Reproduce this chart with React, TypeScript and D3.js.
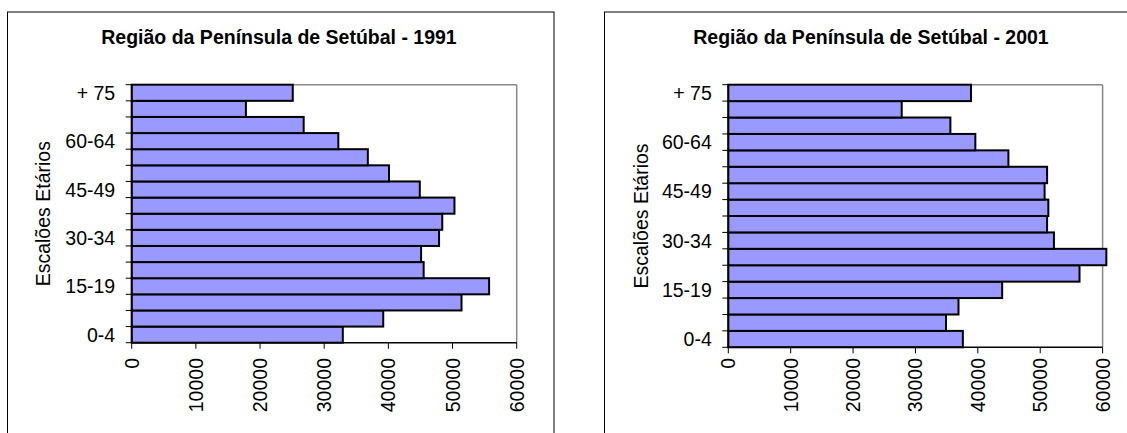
import React from "react";
import * as d3 from "d3";

// ---- data ----
const categories = [
  "0-4", "5-9", "10-14", "15-19", "20-24", "25-29", "30-34", "35-39",
  "40-44", "45-49", "50-54", "55-59", "60-64", "65-69", "70-74", "+ 75",
];
const labeledCategories = ["0-4", "15-19", "30-34", "45-49", "60-64", "+ 75"];
const pop1991 = [
  32900, 39200, 51400, 55700, 45500, 45100, 47900, 48400,
  50300, 44900, 40100, 36800, 32200, 26800, 17800, 25100,
];
const pop2001 = [
  37600, 34900, 36900, 43900, 56300, 60600, 52200, 51100,
  51300, 50700, 51100, 44900, 39600, 35600, 27800, 38900,
];
const xTicks = [0, 10000, 20000, 30000, 40000, 50000, 60000];
const titles = ["Região da Península de Setúbal - 1991", "Região da Península de Setúbal - 2001"];
const axisTitle = "Escalões Etários";

const FONT = "'Liberation Sans', Arial, Helvetica, sans-serif";

type Layout = {
  frameX: number; frameY: number; frameW: number; frameH: number;
  plotL: number; plotR: number; plotT: number; plotB: number;
  titleX: number; titleY: number; axisTitleX: number; xLabelTop: number;
};

const layouts: Layout[] = [
  { frameX: 7.5, frameY: 12, frameW: 546.5, frameH: 440, plotL: 131.7, plotR: 516.7, plotT: 84.7, plotB: 342.7, titleX: 279, titleY: 43.5, axisTitleX: 50, xLabelTop: 358 },
  { frameX: 604.5, frameY: 12, frameW: 546.5, frameH: 440, plotL: 728.3, plotR: 1102.6, plotT: 84.7, plotB: 347.3, titleX: 871, titleY: 43.5, axisTitleX: 648, xLabelTop: 358 },
];

function Panel({ values, title, L }: { values: number[]; title: string; L: Layout }) {
  const x = d3.scaleLinear().domain([0, 60000]).range([L.plotL, L.plotR]);
  const y = d3.scaleBand<string>().domain([...categories].reverse()).range([L.plotT, L.plotB]).padding(0);
  const bw = y.bandwidth();
  const boundaries = d3.range(categories.length + 1).map((i) => L.plotT + i * bw);
  return (
    <g>
      <rect x={L.frameX} y={L.frameY} width={L.frameW} height={L.frameH} fill="white" stroke="#000" strokeWidth={1} />
      <text x={L.titleX} y={L.titleY} textAnchor="middle" fontFamily={FONT} fontWeight="bold" fontSize={19.5} fill="#000">{title}</text>
      {/* plot frame (gray) */}
      <line x1={L.plotL} y1={L.plotT} x2={L.plotR} y2={L.plotT} stroke="#888" strokeWidth={1.5} />
      <line x1={L.plotR} y1={L.plotT} x2={L.plotR} y2={L.plotB} stroke="#888" strokeWidth={1.5} />
      {/* bars */}
      {categories.map((c, i) => (
        <rect key={c} x={x(0)} y={y(c)!} width={x(values[i]) - x(0)} height={bw} fill="#9999FF" stroke="#000" strokeWidth={2} />
      ))}
      {/* y axis */}
      <line x1={L.plotL} y1={L.plotT} x2={L.plotL} y2={L.plotB} stroke="#000" strokeWidth={1.5} />
      {boundaries.map((b, i) => (
        <line key={i} x1={L.plotL - 6} y1={b} x2={L.plotL} y2={b} stroke="#000" strokeWidth={1} />
      ))}
      {labeledCategories.map((c) => (
        <text key={c} x={L.plotL - 16.5} y={y(c)! + bw / 2} dy="0.36em" textAnchor="end" fontFamily={FONT} fontSize={19.5} fill="#000">{c}</text>
      ))}
      {/* x axis */}
      <line x1={L.plotL} y1={L.plotB} x2={L.plotR} y2={L.plotB} stroke="#000" strokeWidth={1.5} />
      {xTicks.map((t) => (
        <g key={t}>
          <line x1={x(t)} y1={L.plotB} x2={x(t)} y2={L.plotB + 6} stroke="#000" strokeWidth={1} />
          <text transform={`translate(${x(t)},${L.xLabelTop}) rotate(-90)`} dy="0.36em" textAnchor="end" fontFamily={FONT} fontSize={19.5} fill="#000">{t}</text>
        </g>
      ))}
      <text transform={`translate(${L.axisTitleX},${(L.plotT + L.plotB) / 2}) rotate(-90)`} textAnchor="middle" fontFamily={FONT} fontSize={19.5} fill="#000">{axisTitle}</text>
    </g>
  );
}

export default function App() {
  return (
    <div style={{ position: "fixed", left: 0, top: 0 }}>
      <svg width={1127} height={433} style={{ display: "block" }}>
        <rect x={0} y={0} width={1127} height={433} fill="white" />
        <Panel values={pop1991} title={titles[0]} L={layouts[0]} />
        <Panel values={pop2001} title={titles[1]} L={layouts[1]} />
      </svg>
    </div>
  );
}
